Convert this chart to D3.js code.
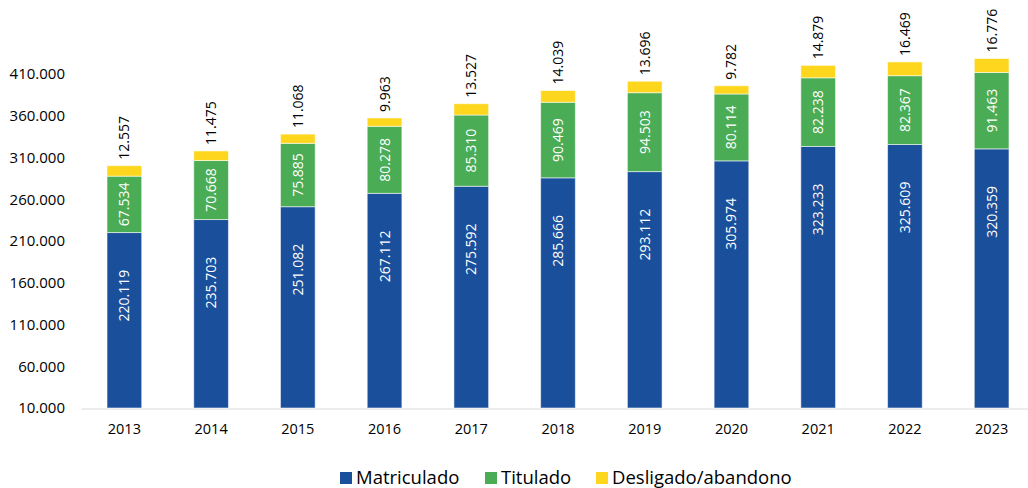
<!DOCTYPE html>
<html>
<head>
<meta charset="utf-8">
<script src="https://cdn.jsdelivr.net/npm/d3@7"></script>
<style>
  body { margin: 0; background: #fff; }
  svg text { font-family: "Open Sans", "Noto Sans", sans-serif; }
</style>
</head>
<body>
<svg id="chart" width="1028" height="488"></svg>
<script>
// data
const years = ["2013","2014","2015","2016","2017","2018","2019","2020","2021","2022","2023"];
const matriculado = [220119, 235703, 251082, 267112, 275592, 285666, 293112, 305974, 323233, 325609, 320359];
const titulado    = [67534, 70668, 75885, 80278, 85310, 90469, 94503, 80114, 82238, 82367, 91463];
const desligado   = [12557, 11475, 11068, 9963, 13527, 14039, 13696, 9782, 14879, 16469, 16776];
const yTicks = [10000, 60000, 110000, 160000, 210000, 260000, 310000, 360000, 410000];

const seriesNames = ["Matriculado", "Titulado", "Desligado/abandono"];
const colors = ["#1a4f9c", "#4aac55", "#fed61e"];

const fmt = d3.formatLocale({decimal: ",", thousands: ".", grouping: [3], currency: ["", ""]}).format(",");

const svg = d3.select("#chart");

// y(10.000) sits on the baseline, bars are clipped at the bottom there
const y = d3.scaleLinear().domain([10000, 410000]).range([408, 74]);
const x = d3.scaleBand().domain(years).range([81, 1035]).paddingInner(0.6).paddingOuter(0.3);

const rows = years.map(function(yr, i){
    return {year: yr, Matriculado: matriculado[i], Titulado: titulado[i], "Desligado/abandono": desligado[i]};
});
const stacked = d3.stack().keys(seriesNames)(rows);

// y axis: labels only
const yAxis = svg.append("g")
    .attr("transform", "translate(67,0)")
    .call(d3.axisLeft(y).tickValues(yTicks).tickFormat(fmt).tickSize(0).tickPadding(2));
yAxis.select(".domain").remove();
yAxis.selectAll("text").attr("font-size", 15).attr("fill", "#000");

// x axis
const xAxis = svg.append("g")
    .attr("transform", "translate(0,408.5)")
    .call(d3.axisBottom(x).tickSize(0).tickPadding(15));
xAxis.select(".domain").attr("stroke", "#d9d9d9").attr("stroke-width", 1.2);
xAxis.selectAll("text").attr("font-size", 14.5).attr("fill", "#000");

// bars
const layers = svg.append("g").selectAll("g")
    .data(stacked).enter().append("g")
    .attr("fill", function(d, i){ return colors[i]; });

layers.selectAll("rect")
    .data(function(d){ return d; })
    .enter().append("rect")
    .attr("x", function(d){ return x(d.data.year); })
    .attr("width", x.bandwidth())
    .attr("y", function(d){ return y(d[1]); })
    .attr("height", function(d){ return Math.max(0, y(Math.max(d[0], 10000)) - y(d[1])); })
    .attr("stroke", "rgba(255,255,255,0.55)")
    .attr("stroke-width", 1);

// value labels
const labels = svg.append("g");
stacked.forEach(function(layer, si){
    layer.forEach(function(d){
        const cx = x(d.data.year) + x.bandwidth() / 2;
        const val = d[1] - d[0];
        let cy, anchor, fill;
        if (si === 0) { cy = y(d[1]) + 63; anchor = "middle"; fill = "#fff"; }
        else if (si === 1) { cy = (y(d[0]) + y(d[1])) / 2; anchor = "middle"; fill = "#fff"; }
        else { cy = y(d[1]) - 6; anchor = "start"; fill = "#000"; }
        labels.append("text")
            .attr("transform", "translate(" + (cx + 5) + "," + cy + ") rotate(-90)")
            .attr("text-anchor", anchor)
            .attr("font-size", 14)
            .attr("fill", fill)
            .text(fmt(val));
    });
});

// legend
const legendX = [340, 485, 596];
const legend = svg.append("g");
seriesNames.forEach(function(name, i){
    legend.append("rect")
        .attr("x", legendX[i]).attr("y", 472)
        .attr("width", 12).attr("height", 12)
        .attr("fill", colors[i]);
    legend.append("text")
        .attr("x", legendX[i] + 16).attr("y", 484)
        .attr("font-size", 18.5)
        .attr("fill", "#000")
        .text(name);
});
</script>
</body>
</html>
